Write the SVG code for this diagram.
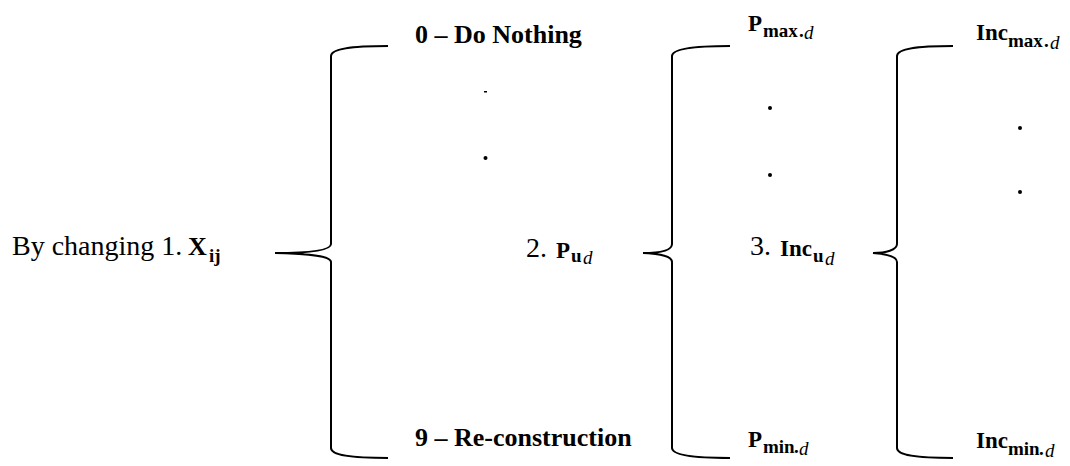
<svg xmlns="http://www.w3.org/2000/svg" width="1070" height="466" viewBox="0 0 1070 466">
<style>
.t{font-family:"Liberation Serif","Times New Roman",serif;fill:#000}
.r{font-size:28px}
.b{font-size:26px;font-weight:bold}
.m{font-size:23px;font-weight:bold}
.s{font-size:19px;font-weight:bold}
.i{font-size:19px;font-style:italic}
.brace{fill:none;stroke:#000;stroke-width:2}
.dot{fill:#000}
</style>
<rect width="1070" height="466" fill="#fff"/>
<g id="connectors">
<path class="brace" d="M388,46 C350,46 331,49 331,56 L331,244 C331,250 312,253 275,253 C312,254 331,256 331,262 L331,448 C331,455 350,458 388,458"/>
<path class="brace" d="M730,46 C692,46 672,49 672,56 L672,244 C672,250 661,253 643,253 C661,254 672,256 672,262 L672,448 C672,455 692,458 730,458"/>
<path class="brace" d="M953,46 C915,46 897,49 897,56 L897,244 C897,250 886,253 873,253 C886,254 897,256 897,262 L897,448 C897,455 915,458 953,458"/>
</g>
<g id="node-xij">
<text class="t r" x="12" y="255">By changing 1.</text>
<text class="t b" x="188" y="255">X</text>
<text class="t s" x="209" y="262">ij</text>
</g>
<g id="node-do-nothing"><text class="t b" x="415" y="43">0 – Do Nothing</text></g>
<g id="node-dots1">
<rect class="dot" x="484" y="91" width="3" height="1.5"/>
<circle class="dot" cx="485.5" cy="158" r="2"/>
</g>
<g id="node-reconstruction"><text class="t b" x="415" y="446">9 – Re-construction</text></g>
<g id="node-pud">
<text class="t r" x="526" y="257">2.</text>
<text class="t m" x="556" y="258">P</text>
<text class="t s" x="571" y="262">u</text>
<text class="t i" x="583" y="264">d</text>
</g>
<g id="node-pmax">
<text class="t m" x="748" y="31">P</text>
<text class="t s" x="763" y="37">max</text>
<text class="t s" x="799" y="37">.</text>
<text class="t i" x="804" y="39">d</text>
</g>
<g id="node-dots2">
<circle class="dot" cx="770" cy="108" r="2"/>
<circle class="dot" cx="770" cy="175" r="2"/>
</g>
<g id="node-pmin">
<text class="t m" x="748" y="447">P</text>
<text class="t s" x="763" y="453">min</text>
<text class="t s" x="794" y="453">.</text>
<text class="t i" x="799" y="455">d</text>
</g>
<g id="node-incud">
<text class="t r" x="750" y="255">3.</text>
<text class="t m" x="780" y="256">Inc</text>
<text class="t s" x="813" y="262">u</text>
<text class="t i" x="825" y="265">d</text>
</g>
<g id="node-incmax">
<text class="t m" x="976" y="40">Inc</text>
<text class="t s" x="1008" y="47">max</text>
<text class="t s" x="1044" y="47">.</text>
<text class="t i" x="1050" y="49">d</text>
</g>
<g id="node-dots3">
<circle class="dot" cx="1020" cy="128" r="2"/>
<circle class="dot" cx="1020" cy="192" r="2"/>
</g>
<g id="node-incmin">
<text class="t m" x="976" y="448">Inc</text>
<text class="t s" x="1008" y="455">min</text>
<text class="t s" x="1039" y="455">.</text>
<text class="t i" x="1045" y="457">d</text>
</g>
</svg>
